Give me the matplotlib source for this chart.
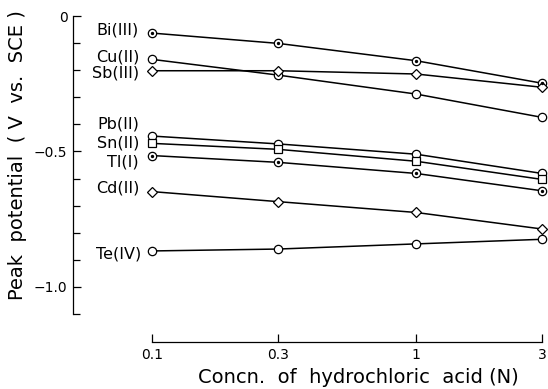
import matplotlib
matplotlib.use("Agg")
import matplotlib.pyplot as plt
from matplotlib.ticker import NullLocator

# Data
conc = [0.1, 0.3, 1, 3]
ions = ["Bi(III)", "Cu(II)", "Sb(III)", "Pb(II)", "Sn(II)", "Tl(I)", "Cd(II)", "Te(IV)"]
bi = [-0.063, -0.101, -0.165, -0.248]
cu = [-0.160, -0.218, -0.288, -0.374]
sb = [-0.202, -0.202, -0.214, -0.263]
pb = [-0.443, -0.472, -0.510, -0.581]
sn = [-0.470, -0.492, -0.536, -0.603]
tl = [-0.515, -0.540, -0.581, -0.645]
cd = [-0.648, -0.685, -0.725, -0.786]
te = [-0.867, -0.860, -0.841, -0.824]
series = [bi, cu, sb, pb, sn, tl, cd, te]

# marker style per ion ("dot" = circle with a centre dot)
markers = ["dot", "o", "D", "o", "s", "dot", "D", "o"]
# label offset (pixels) from the first point
label_dy = [3, 2, -2, 12, 0, -6, 4, -3]
label_dx = [-13, -13, -13, -13, -13, -13, -13, -11]

fig = plt.figure(figsize=(5.48, 3.89), dpi=100)
ax = fig.add_axes([73 / 548, 1 - 342 / 389, 469 / 548, 326 / 389])

for name, vals, m, dy, dx in zip(ions, series, markers, label_dy, label_dx):
    if m == "dot":
        ax.plot(conc, vals, color="black", lw=1.1, marker="o", ms=6,
                mfc="white", mec="black", mew=0.9, clip_on=False, zorder=3)
        ax.plot(conc, vals, ls="none", marker="o", ms=1.4, color="black",
                clip_on=False, zorder=4)
    else:
        ms = 5.2 if m == "D" else 6
        ax.plot(conc, vals, color="black", lw=1.1, marker=m, ms=ms,
                mfc="white", mec="black", mew=0.9, clip_on=False, zorder=3)
    ax.annotate(name, (conc[0], vals[0]), xytext=(dx, dy),
                textcoords="offset pixels", ha="right", va="center",
                fontsize=11.5)

ax.set_xscale("log")
ax.set_xlim(0.0502, 3)
ax.set_ylim(-1.203, 0)

for s in ["top", "right"]:
    ax.spines[s].set_visible(False)
ax.spines["left"].set_bounds(-1.1, 0)
ax.spines["bottom"].set_bounds(0.1, 3)
ax.spines["left"].set_linewidth(0.9)
ax.spines["bottom"].set_linewidth(0.9)

ax.set_xticks(conc, ["0.1", "0.3", "1", "3"])
ax.xaxis.set_minor_locator(NullLocator())
ax.set_yticks([0, -0.5, -1.0], ["0", "\u22120.5", "\u22121.0"])
ax.set_yticks([-0.1, -0.2, -0.3, -0.4, -0.6, -0.7, -0.8, -0.9, -1.1], minor=True)
ax.tick_params(which="both", direction="in", width=0.9, labelsize=10)
ax.tick_params(which="major", length=6, pad=4)
ax.tick_params(which="minor", length=5)

ax.set_xlabel("Concn.  of  hydrochloric  acid (N)", fontsize=14)
ax.set_ylabel("Peak  potential  ( V  vs.  SCE )", fontsize=14)
ax.xaxis.set_label_coords((358 - 73) / 469, -26 / 326)
ax.yaxis.set_label_coords(-46 / 469, (342 - 155) / 326)

fig.savefig("out.png", dpi=100)
